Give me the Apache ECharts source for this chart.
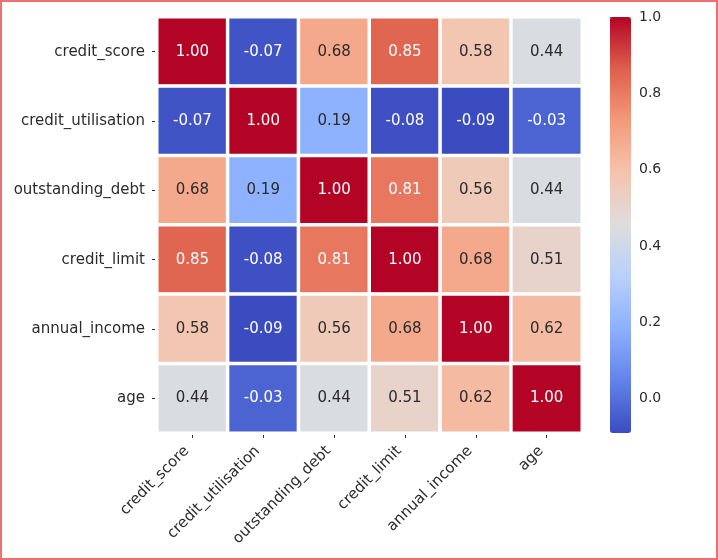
<!DOCTYPE html>
<html>
<head>
<meta charset="utf-8">
<script src="https://cdn.jsdelivr.net/npm/echarts@6/dist/echarts.min.js"></script>
<style>
html,body{margin:0;padding:0;background:#fff;}
#c{width:718px;height:560px;}
</style>
</head>
<body>
<div id="c"></div>
<script>
var labels = ['credit_score','credit_utilisation','outstanding_debt','credit_limit','annual_income','age'];
var row_credit_score       = [1.00, -0.07, 0.68, 0.85, 0.58, 0.44];
var row_credit_utilisation = [-0.07, 1.00, 0.19, -0.08, -0.09, -0.03];
var row_outstanding_debt   = [0.68, 0.19, 1.00, 0.81, 0.56, 0.44];
var row_credit_limit       = [0.85, -0.08, 0.81, 1.00, 0.68, 0.51];
var row_annual_income      = [0.58, -0.09, 0.56, 0.68, 1.00, 0.62];
var row_age                = [0.44, -0.03, 0.44, 0.51, 0.62, 1.00];
var rows = [row_credit_score,row_credit_utilisation,row_outstanding_debt,row_credit_limit,row_annual_income,row_age];
var colorbarTicks = [0.0, 0.2, 0.4, 0.6, 0.8, 1.0];
var vmin = -0.09, vmax = 1.0;

var coolwarm = ['#3b4cc0','#6282ea','#8db0fe','#b8d0f9','#dddddd','#f5c4ad','#f49a7b','#de604d','#b40426'];

var data = [];
rows.forEach(function(r, i){
  r.forEach(function(v, j){ data.push([j, i, v]); });
});

var font = 'DejaVu Sans';
var txt = '#2b2b2b';
var chart = echarts.init(document.getElementById('c'));
chart.setOption({
  animation: false,
  backgroundColor: '#fff',
  textStyle: {fontFamily: font},
  graphic: [{
    type: 'rect', shape: {x: 1, y: 1, width: 716, height: 558},
    style: {fill: 'none', stroke: '#ef7070', lineWidth: 2}, silent: true, z: 100
  }],
  grid: [
    {left: 157, top: 17, width: 425, height: 416},
    {left: 610, top: 17, width: 21, height: 416}
  ],
  xAxis: [{
    type: 'category', data: labels, gridIndex: 0,
    axisLine: {show: false},
    axisTick: {show: true, alignWithLabel: true, length: 5, lineStyle: {color: '#333'}},
    axisLabel: {rotate: 45, fontSize: 15, color: txt, margin: 10, padding: [0, 8, 0, 0], fontFamily: font},
    splitLine: {show: false}
  },{
    type: 'value', gridIndex: 1, show: false, min: 0, max: 1
  }],
  yAxis: [{
    type: 'category', data: labels, gridIndex: 0, inverse: true,
    axisLine: {show: false},
    axisTick: {show: true, alignWithLabel: true, length: 5, lineStyle: {color: '#333'}},
    axisLabel: {fontSize: 15, color: txt, margin: 12, fontFamily: font},
    splitLine: {show: false}
  },{
    type: 'value', gridIndex: 1, position: 'right', min: vmin, max: vmax,
    axisLine: {show: false},
    splitLine: {show: false},
    axisTick: {show: true, length: 5, customValues: colorbarTicks, lineStyle: {color: '#333'}},
    axisLabel: {show: true, customValues: colorbarTicks, fontSize: 14, color: txt, margin: 8, fontFamily: font,
      formatter: function(v){ return Number(v).toFixed(1); }}
  }],
  visualMap: {
    type: 'continuous', min: vmin, max: vmax, calculable: false,
    seriesIndex: 0, dimension: 2,
    left: 610, top: 17, itemWidth: 21, itemHeight: 416, padding: 0,
    text: null, hoverLink: false,
    inRange: {color: coolwarm}
  },
  series: [{
    type: 'heatmap', xAxisIndex: 0, yAxisIndex: 0,
    data: data,
    itemStyle: {borderColor: '#fff', borderWidth: 3.5},
    label: {
      show: true, fontFamily: font,
      formatter: function(p){
        var v = p.value[2];
        var s = v.toFixed(2);
        return (v > 0.75 || v < 0.1) ? '{w|' + s + '}' : '{d|' + s + '}';
      },
      rich: {
        w: {color: '#ffffff', fontSize: 15, fontFamily: font},
        d: {color: txt, fontSize: 15, fontFamily: font}
      }
    },
    emphasis: {disabled: true}
  }]
});
</script>
</body>
</html>
